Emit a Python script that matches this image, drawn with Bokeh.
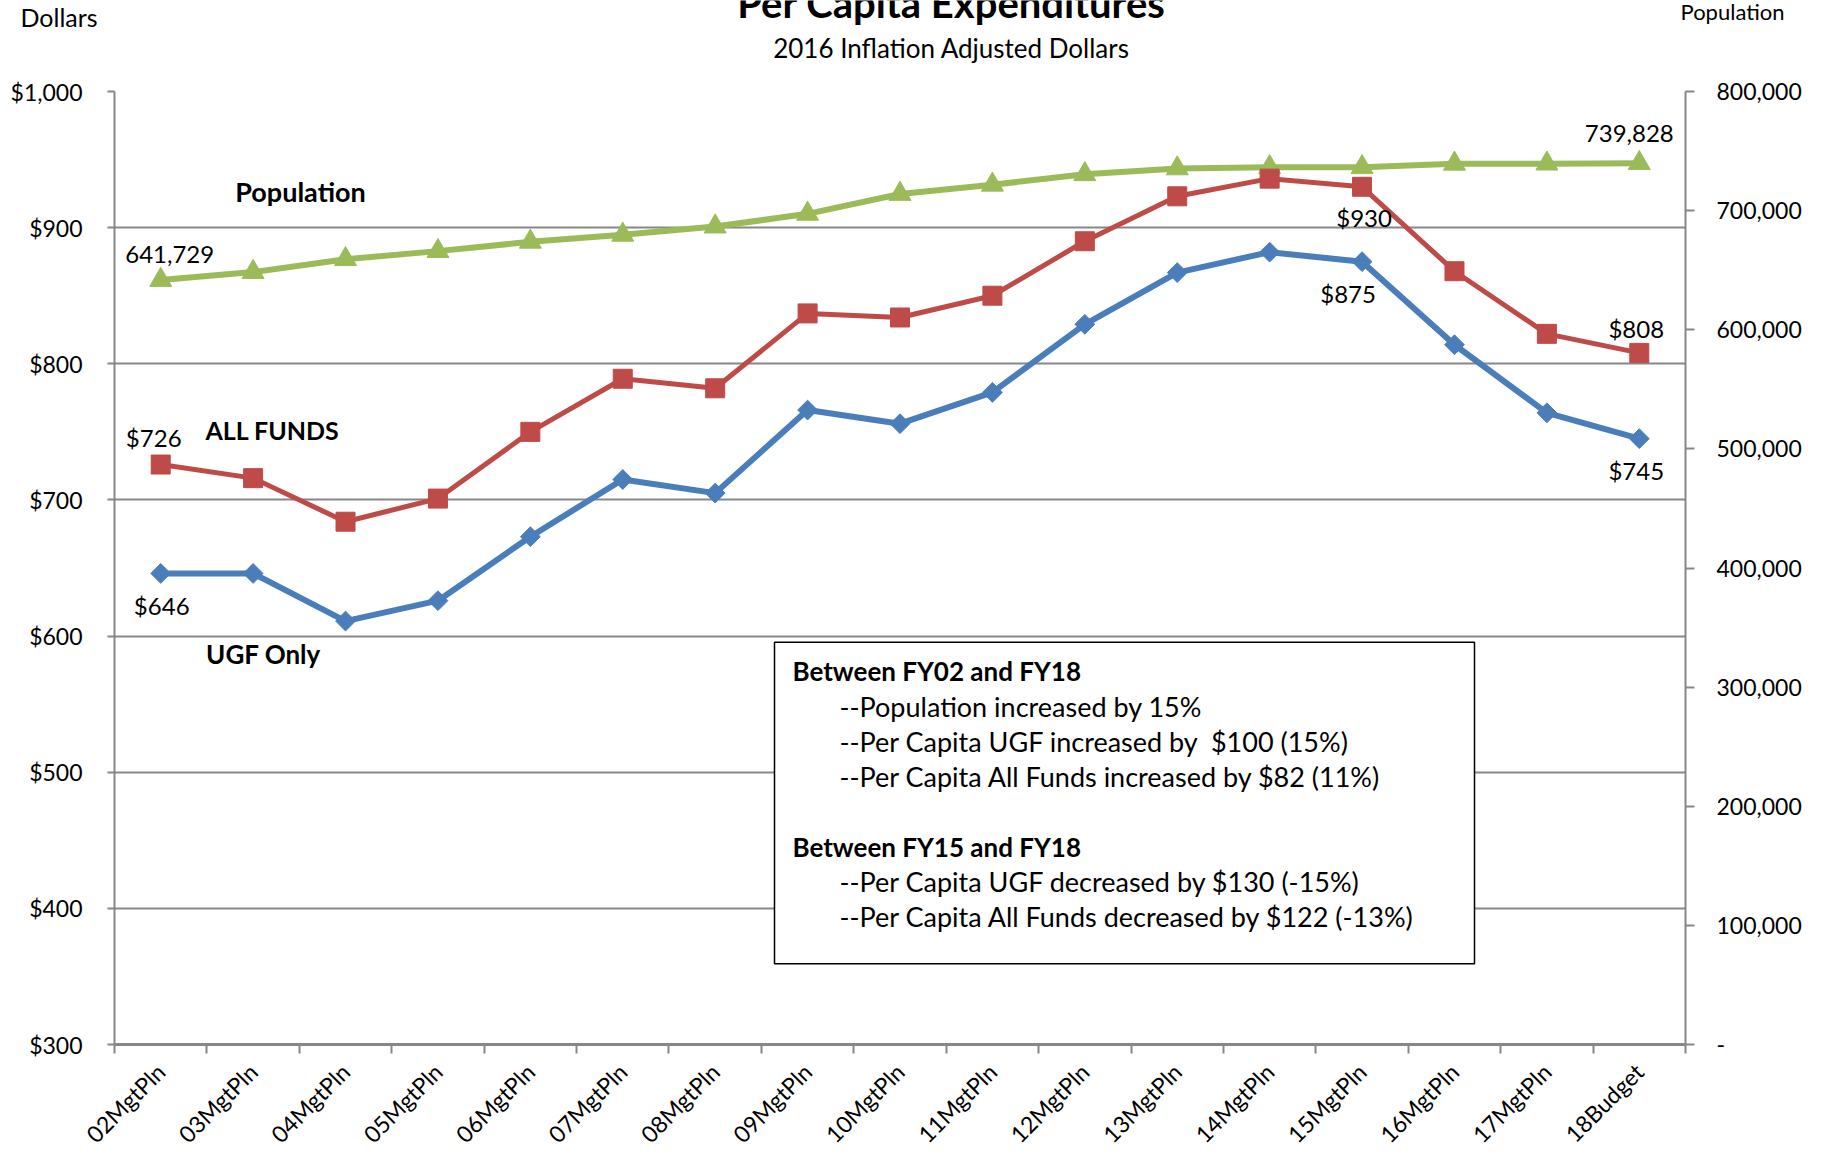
from bokeh.plotting import figure
from bokeh.models import (Range1d, LinearAxis, FixedTicker, NumeralTickFormatter,
                          Label, BoxAnnotation)
from bokeh.layouts import column
from bokeh.core.properties import value
from bokeh.embed import file_html
from bokeh.resources import INLINE
import math

# ---------------- data ----------------
categories = ["02MgtPln", "03MgtPln", "04MgtPln", "05MgtPln", "06MgtPln", "07MgtPln",
              "08MgtPln", "09MgtPln", "10MgtPln", "11MgtPln", "12MgtPln", "13MgtPln",
              "14MgtPln", "15MgtPln", "16MgtPln", "17MgtPln", "18Budget"]
ugf_only = [646, 646, 611, 626, 673, 715, 705, 766, 756, 779, 829, 867, 882, 875, 814, 764, 745]
all_funds = [726, 716, 684, 701, 750, 789, 782, 837, 834, 850, 890, 923, 936, 930, 868, 822, 808]
population = [641729, 648400, 659200, 666000, 673800, 679700, 686600, 697300, 714000,
              721700, 730500, 735400, 736400, 736400, 739300, 739400, 739828]
dollar_ticks = [300, 400, 500, 600, 700, 800, 900, 1000]
pop_ticks = [0, 100000, 200000, 300000, 400000, 500000, 600000, 700000, 800000]

title_text = "Per Capita Expenditures"
subtitle_text = "2016 Inflation Adjusted Dollars"
left_caption = "Dollars"
right_caption = "Population"

notes_head1 = "Between FY02 and FY18"
notes_1 = ["--Population increased by 15%",
           "--Per Capita UGF increased by \u00a0$100 (15%)",
           "--Per Capita All Funds increased by $82 (11%)"]
notes_head2 = "Between FY15 and FY18"
notes_2 = ["--Per Capita UGF decreased by $130 (-15%)",
           "--Per Capita All Funds decreased by $122 (-13%)"]

FONT = "Lato"
BLUE = "#4a7ebb"
RED = "#be4b48"
GREEN = "#9bbb59"
GRID = "#878787"

xs = list(range(len(categories)))

W = 1828
HTOT = 1160
HH = 70            # header height
HM = HTOT - HH     # main figure height
# frame position in page pixels
FL, FR, FT, FB = 114, 1685, 91, 1046

def px2x(px):
    return -0.5 + (px - FL) / (FR - FL) * len(categories)
def py2y(py):
    return 300 + (FB - py) / (FB - FT) * 700

# ---------------- header (title & captions) ----------------
h = figure(width=W, height=HH, output_backend="svg", toolbar_location=None, title=None,
           x_range=Range1d(0, W), y_range=Range1d(HH, 0),
           x_axis_type=None, y_axis_type=None,
           min_border=0, min_border_left=0, min_border_right=0,
           min_border_top=0, min_border_bottom=0)
h.frame_align = False
h.outline_line_color = None
h.xgrid.visible = False
h.ygrid.visible = False
h.text(x=[951], y=[2], text=[title_text], text_font=value(FONT), text_font_size="40px",
       text_font_style="bold", text_align="center", text_baseline="middle",
       text_color="black")
h.text(x=[951], y=[47], text=[subtitle_text], text_font=value(FONT), text_font_size="26px",
       text_align="center", text_baseline="middle", text_color="black")
h.text(x=[20], y=[16], text=[left_caption], text_font=value(FONT), text_font_size="25px",
       text_align="left", text_baseline="middle", text_color="black")
h.text(x=[1680], y=[11], text=[right_caption], text_font=value(FONT), text_font_size="22px",
       text_align="left", text_baseline="middle", text_color="black")

# ---------------- main chart ----------------
p = figure(width=W, height=HM, output_backend="svg", toolbar_location=None, title=None,
           x_range=Range1d(-0.5, len(categories) - 0.5), y_range=Range1d(300, 1000),
           min_border_left=FL, min_border_right=W - FR,
           min_border_top=FT - HH, min_border_bottom=HTOT - FB)
p.frame_align = False
p.outline_line_color = None

p.extra_y_ranges = {"pop": Range1d(0, 800000)}

# bottom axis
xa = p.xaxis[0]
xa.ticker = FixedTicker(ticks=xs, minor_ticks=[i - 0.5 for i in range(len(categories) + 1)])
xa.major_label_overrides = {i: c for i, c in enumerate(categories)}
xa.major_label_orientation = math.pi / 4
xa.major_tick_out = 0
xa.major_tick_in = 0
xa.minor_tick_out = 9
xa.minor_tick_in = 0
xa.minor_tick_line_color = GRID
xa.minor_tick_line_width = 2
xa.axis_line_color = GRID
xa.axis_line_width = 3
xa.major_label_text_font = FONT
xa.major_label_text_font_size = "23px"
xa.major_label_text_color = "black"
xa.major_label_standoff = 14

# left axis
ya = p.yaxis[0]
ya.ticker = FixedTicker(ticks=dollar_ticks)
ya.formatter = NumeralTickFormatter(format="$0,0")
ya.major_tick_out = 7
ya.major_tick_in = 0
ya.minor_tick_line_color = None
ya.major_tick_line_color = GRID
ya.major_tick_line_width = 2
ya.axis_line_color = GRID
ya.axis_line_width = 2
ya.major_label_text_font = FONT
ya.major_label_text_font_size = "23px"
ya.major_label_text_color = "black"
ya.major_label_standoff = 25

# right axis
ra = LinearAxis(y_range_name="pop", ticker=FixedTicker(ticks=pop_ticks),
                formatter=NumeralTickFormatter(format="0,0"),
                major_label_overrides={0: "-"})
ra.major_tick_out = 9
ra.major_tick_in = 0
ra.minor_tick_line_color = None
ra.major_tick_line_color = GRID
ra.major_tick_line_width = 2
ra.axis_line_color = GRID
ra.axis_line_width = 2
ra.major_label_text_font = FONT
ra.major_label_text_font_size = "23px"
ra.major_label_text_color = "black"
ra.major_label_standoff = 22
p.add_layout(ra, "right")

p.xgrid.visible = False
p.ygrid.ticker = FixedTicker(ticks=dollar_ticks)
p.ygrid.grid_line_color = GRID
p.ygrid.grid_line_width = 2

# series
p.line(xs, population, y_range_name="pop", line_color=GREEN, line_width=6)
p.scatter(xs, population, y_range_name="pop", marker="triangle", size=22,
          fill_color=GREEN, line_color=GREEN)
p.line(xs, all_funds, line_color=RED, line_width=5)
p.scatter(xs, all_funds, marker="square", size=19, fill_color=RED, line_color=RED)
p.line(xs, ugf_only, line_color=BLUE, line_width=6)
p.scatter(xs, ugf_only, marker="square", angle=math.pi / 4, size=14,
          fill_color=BLUE, line_color=BLUE)

def lab(x, y, text, xo=0, yo=0, size="24px", bold=False, align="center",
        baseline="middle", rng="default"):
    l = Label(x=x, y=y, text=text, x_offset=xo, y_offset=yo, text_font=FONT,
              text_font_size=size, text_font_style="bold" if bold else "normal",
              text_align=align, text_baseline=baseline, text_color="black",
              y_range_name=rng)
    p.add_layout(l)

# data labels
n = len(categories) - 1
lab(0, population[0], "{:,}".format(population[0]), xo=9, yo=26, rng="pop")
lab(n, population[n], "{:,}".format(population[n]), xo=-10, yo=30, rng="pop")
lab(0, all_funds[0], "${}".format(all_funds[0]), xo=-7, yo=27)
lab(0, ugf_only[0], "${}".format(ugf_only[0]), xo=1, yo=-32)
lab(13, all_funds[13], "${}".format(all_funds[13]), xo=2, yo=-31)
lab(13, ugf_only[13], "${}".format(ugf_only[13]), xo=-14, yo=-32)
lab(n, all_funds[n], "${}".format(all_funds[n]), xo=-3, yo=24)
lab(n, ugf_only[n], "${}".format(ugf_only[n]), xo=-3, yo=-32)

# series names
lab(px2x(300), py2y(191), "Population", size="27px", bold=True)
lab(px2x(272), py2y(430), "ALL FUNDS", size="25px", bold=True)
lab(px2x(263), py2y(655), "UGF Only", size="26px", bold=True)

# notes box
box = BoxAnnotation(left=px2x(774), right=px2x(1474), top=py2y(643), bottom=py2y(965),
                    fill_color="white", fill_alpha=1.0, line_color="black",
                    line_alpha=1.0, line_width=1.5)
p.add_layout(box)
lab(px2x(792), py2y(672), notes_head1, size="26px", bold=True, align="left")
for i, t in enumerate(notes_1):
    lab(px2x(839), py2y(707 + 35 * i), t, size="27px", align="left")
lab(px2x(792), py2y(848), notes_head2, size="26px", bold=True, align="left")
for i, t in enumerate(notes_2):
    lab(px2x(839), py2y(883 + 35 * i), t, size="27px", align="left")

layout = column(h, p, spacing=0)
open("out.html", "w").write(file_html(layout, INLINE))
